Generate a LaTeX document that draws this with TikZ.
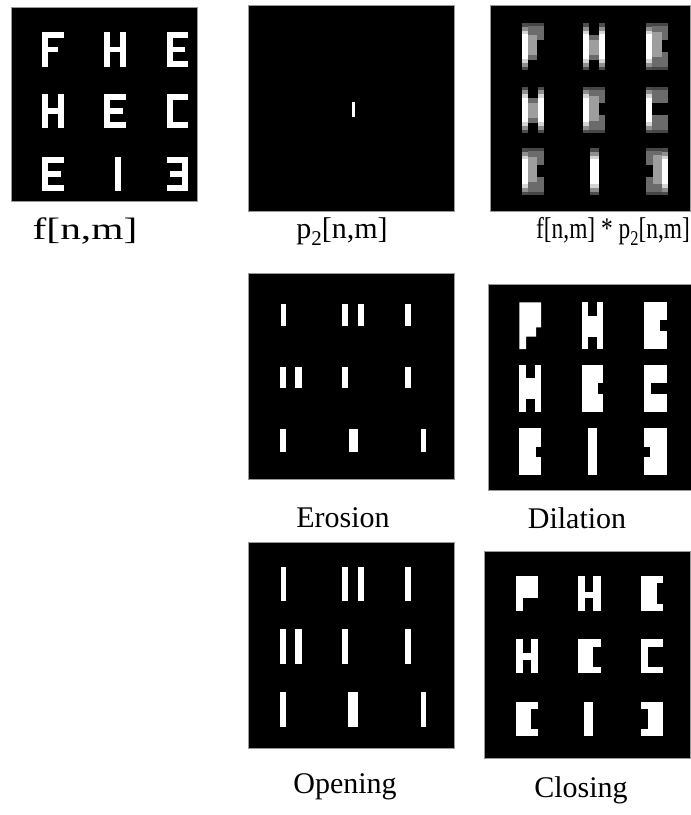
\documentclass[tikz,border=0pt]{standalone}
\usepackage{fontspec}
\setmainfont{Liberation Serif}
\definecolor{cdk}{gray}{0.42}
\definecolor{cdd}{gray}{0.27}
\definecolor{clt}{gray}{0.62}
\definecolor{cra}{gray}{0.30}
\definecolor{crb}{gray}{0.56}
\definecolor{crc}{gray}{0.83}
\tikzset{
  panel/.style={fill=black, draw=gray!80, line width=0.7pt},
  lab/.style={font=\fontsize{30}{36}\selectfont, anchor=base, inner sep=0pt},
}
% generic filled rectangle: x0 x1 y0 y1 colour
\newcommand\cR[5]{\fill[#5] ({#1},{#3}) rectangle ({#2},{#4});}
% ---------- f[n,m] letters (x,y = top-left) ----------
\newcommand\fF[2]{\cR{#1}{#1+6}{#2}{#2+34.5}{white}\cR{#1}{#1+21.5}{#2}{#2+6}{white}\cR{#1}{#1+16}{#2+14.5}{#2+20}{white}}
\newcommand\fH[2]{\cR{#1}{#1+6}{#2}{#2+34.5}{white}\cR{#1+15.5}{#1+21.5}{#2}{#2+34.5}{white}\cR{#1}{#1+21.5}{#2+14.5}{#2+20}{white}}
\newcommand\fE[2]{\cR{#1}{#1+6}{#2}{#2+34.5}{white}\cR{#1}{#1+21.5}{#2}{#2+6}{white}\cR{#1}{#1+21.5}{#2+28.5}{#2+34.5}{white}\cR{#1}{#1+18.5}{#2+14.5}{#2+20}{white}}
\newcommand\fC[2]{\cR{#1}{#1+6}{#2}{#2+34.5}{white}\cR{#1}{#1+21.5}{#2}{#2+6}{white}\cR{#1}{#1+21.5}{#2+28.5}{#2+34.5}{white}}
\newcommand\fI[2]{\cR{#1+11}{#1+17}{#2}{#2+34.5}{white}}
\newcommand\fR[2]{\cR{#1+15.5}{#1+21.5}{#2}{#2+34.5}{white}\cR{#1}{#1+21.5}{#2}{#2+6}{white}\cR{#1}{#1+21.5}{#2+28.5}{#2+34.5}{white}\cR{#1+3}{#1+21.5}{#2+14.5}{#2+20}{white}}
% ---------- convolution letters (x,y = top-left of blurred box) ----------
\newcommand\cS[3]{%
  \cR{#1}{#2}{#3}{#3+3.5}{cra}\cR{#1}{#2}{#3+3.5}{#3+7.5}{crb}\cR{#1}{#2}{#3+7.5}{#3+11}{crc}%
  \cR{#1}{#2}{#3+11}{#3+35.7}{white}%
  \cR{#1}{#2}{#3+35.7}{#3+39.2}{crc}\cR{#1}{#2}{#3+39.2}{#3+43.2}{crb}\cR{#1}{#2}{#3+43.2}{#3+46.7}{cra}}
\newcommand\cTop[3]{\cR{#1}{#2}{#3}{#3+16.7}{cdk}\cR{#1}{#2}{#3}{#3+3}{cdd}}
\newcommand\cBot[3]{\cR{#1}{#2}{#3+28.3}{#3+46.7}{cdk}\cR{#1}{#2}{#3+43.7}{#3+46.7}{cdd}}
\newcommand\cvF[2]{\cTop{#1+6}{#1+22}{#2}\cR{#1+6}{#1+15}{#2+11.7}{#2+31.7}{clt}\cR{#1+6}{#1+15}{#2+31.7}{#2+36.7}{cdk}\cS{#1}{#1+6}{#2}}
\newcommand\cvH[2]{\cR{#1+6}{#1+16}{#2+11.7}{#2+36.7}{cdk}\cR{#1+6}{#1+16}{#2+16.7}{#2+31.7}{clt}\cS{#1}{#1+6}{#2}\cS{#1+16}{#1+22}{#2}}
\newcommand\cvE[2]{\cTop{#1+6}{#1+22}{#2}\cBot{#1+6}{#1+22}{#2}\cR{#1+6}{#1+15.5}{#2+9}{#2+34}{clt}\cS{#1}{#1+6}{#2}}
\newcommand\cvC[2]{\cTop{#1+6}{#1+22}{#2}\cBot{#1+6}{#1+22}{#2}\cS{#1}{#1+6}{#2}}
\newcommand\cvI[2]{\cS{#1+6.7}{#1+16}{#2}}
\newcommand\cvR[2]{\cTop{#1}{#1+16}{#2}\cBot{#1}{#1+16}{#2}\cR{#1+6.5}{#1+16}{#2+7}{#2+36}{clt}\cS{#1+16}{#1+22}{#2}}
\begin{document}
\begin{tikzpicture}[x=1pt,y=-1pt]
\useasboundingbox (0,0) rectangle (691,815);
% ================= f[n,m] =================
\draw[panel] (11,7) rectangle (197,201);
\fF{42.3}{32.3}\fH{104}{32.3}\fE{166.7}{32.3}
\fH{42.3}{93.5}\fE{104}{93.5}\fC{166.7}{93.5}
\fE{42.3}{156.5}\fI{104}{156.5}\fR{166.7}{156.5}
\node[lab] (lf) at (85,239) {\scalebox{1.38}[1.03]{f[n,m]}};
% ================= p2[n,m] =================
\draw[panel] (248,5) rectangle (454,211);
\cR{351.7}{355}{101.7}{117.3}{white}
\node[lab] (lp) at (342,238) {p\raisebox{-7pt}{\fontsize{21}{21}\selectfont 2}[n,m]};
% ================= f * p2 =================
\draw[panel] (490,5) rectangle (690,211);
\cvF{521.7}{23.3}\cvH{583.3}{23.3}\cvE{646}{23.3}
\cvH{521.7}{86.7}\cvE{583.3}{86.7}\cvC{646}{86.7}
\cvE{521.7}{148.3}\cvI{583.3}{148.3}\cvR{646}{148.3}
\node[lab] (lc) at (613,238) {\scalebox{0.78}[1]{f[n,m] * p\raisebox{-7pt}{\fontsize{21}{21}\selectfont 2}[n,m]}};
% ================= Erosion =================
\draw[panel] (248,273) rectangle (454,479);
\cR{280.7}{286}{304.3}{326}{white}\cR{342.3}{347.7}{304.3}{326}{white}\cR{358.3}{364}{304.3}{326}{white}\cR{405}{410.7}{304.3}{326}{white}
\cR{280}{285.7}{366.7}{388.3}{white}\cR{295}{301.7}{366.7}{388.3}{white}\cR{342.3}{348.3}{366.7}{388.3}{white}\cR{405}{411}{366.7}{388.3}{white}
\cR{280}{285.7}{429.3}{451.7}{white}\cR{349}{358.3}{429.3}{451.7}{white}\cR{420.7}{426}{429.3}{451.7}{white}
\node[lab] (le) at (343,527) {Erosion};
% ================= Dilation =================
\draw[panel] (488,284) rectangle (691,490);
\fill[white] (519.3,302.3) -- (541,302.3) -- (541,327.3) -- (536,327.3) -- (536,336.7) -- (526,336.7) -- (526,349) -- (519.3,349) -- cycle;
\cR{581.7}{603.3}{302.3}{349}{white}\cR{588.3}{596.7}{302.3}{315.7}{black}\cR{588.3}{596.7}{336.7}{349}{black}
\cR{644.3}{666.7}{302.3}{349}{white}\cR{660}{666.7}{320}{331}{black}
\cR{519.3}{541}{365}{412.3}{white}\cR{526}{535}{365}{377.7}{black}\cR{526}{535}{399}{412.3}{black}
\cR{581.7}{603.3}{365}{412.3}{white}\cR{597.7}{603.3}{383.3}{394.3}{black}
\cR{644.3}{666.7}{365}{412.3}{white}\cR{651}{666.7}{383.3}{394.3}{black}
\cR{519.3}{541}{427.7}{475}{white}\cR{536}{541}{446.7}{456.7}{black}
\cR{587.7}{596.7}{427.7}{475}{white}
\cR{644.3}{666.7}{427.7}{475}{white}\cR{644.3}{650}{446.7}{456.7}{black}
\node[lab] (ld) at (577,528) {Dilation};
% ================= Opening =================
\draw[panel] (248,542) rectangle (454,748);
\cR{280.7}{286}{567}{601}{white}\cR{342.3}{347.7}{567}{601}{white}\cR{358.3}{364}{567}{601}{white}\cR{405}{410.7}{567}{601}{white}
\cR{280}{285.7}{629}{664}{white}\cR{295}{301.7}{629}{664}{white}\cR{342.3}{348.3}{629}{664}{white}\cR{405}{411}{629}{664}{white}
\cR{280}{285.7}{692}{727}{white}\cR{348}{358}{692}{727}{white}\cR{420.7}{426}{692}{727}{white}
\node[lab] (lo) at (345,793) {Opening};
% ================= Closing =================
\draw[panel] (484,551) rectangle (690,758);
\cR{516}{537.7}{576}{597.7}{white}\cR{516}{522.7}{597.7}{610.7}{white}
\cR{578.3}{600.7}{576}{610.7}{white}\cR{585}{593.3}{576}{592}{black}\cR{585}{593.3}{598.3}{610.7}{black}
\cR{641}{662.7}{576}{610.7}{white}\cR{656.7}{662.7}{583.3}{604.3}{black}
\cR{516}{537.7}{639}{673.3}{white}\cR{522.7}{531}{639}{653.3}{black}\cR{522.7}{531}{660}{673.3}{black}
\cR{578.3}{600.7}{639}{673.3}{white}\cR{593.3}{600.7}{646.7}{666.7}{black}
\cR{641}{662.7}{639}{673.3}{white}\cR{647.7}{662.7}{646.7}{666.7}{black}
\cR{516}{537.7}{701.7}{735.7}{white}\cR{531}{537.7}{709}{729}{black}
\cR{584.3}{593.3}{701.7}{735.7}{white}
\cR{641}{662.7}{701.7}{735.7}{white}\cR{641}{648.3}{709}{729}{black}
\node[lab] (lcl) at (581,797) {Closing};
\end{tikzpicture}
\end{document}
